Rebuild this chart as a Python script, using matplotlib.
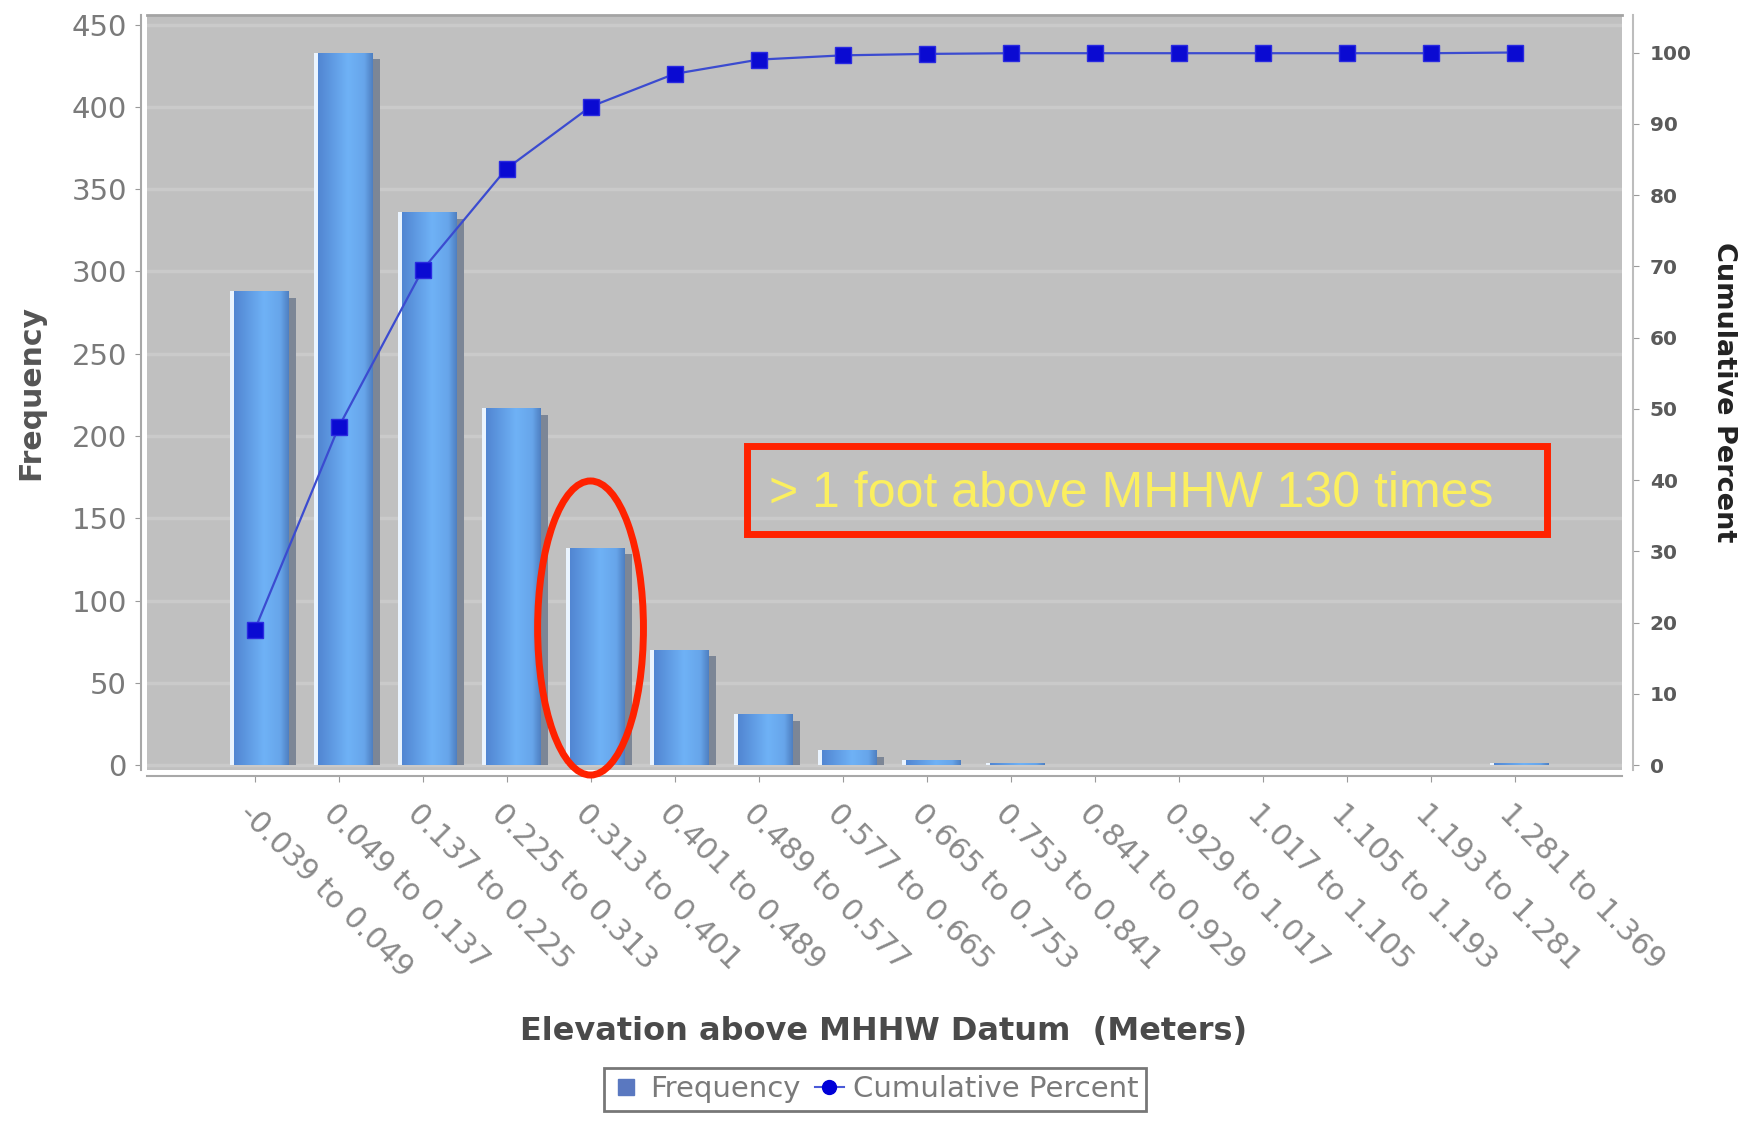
import numpy as np
import matplotlib.pyplot as plt
from matplotlib.patches import Rectangle, Ellipse
from matplotlib.lines import Line2D
from matplotlib.colors import LinearSegmentedColormap

# elevation bins (meters above MHHW) and counts per bin
bins = ['-0.039 to 0.049', '0.049 to 0.137', '0.137 to 0.225', '0.225 to 0.313',
        '0.313 to 0.401', '0.401 to 0.489', '0.489 to 0.577', '0.577 to 0.665',
        '0.665 to 0.753', '0.753 to 0.841', '0.841 to 0.929', '0.929 to 1.017',
        '1.017 to 1.105', '1.105 to 1.193', '1.193 to 1.281', '1.281 to 1.369']
frequency = [288, 433, 336, 217, 132, 70, 31, 9, 3, 1, 0, 0, 0, 0, 0, 1]
cumulative_pct = [18.9, 47.4, 69.5, 83.7, 92.4, 97.0, 99.0, 99.6, 99.8, 99.9,
                  99.9, 99.9, 99.9, 99.9, 99.9, 100.0]
freq_ticks = [0, 50, 100, 150, 200, 250, 300, 350, 400, 450]
pct_ticks = [0, 10, 20, 30, 40, 50, 60, 70, 80, 90, 100]
circled = 4  # the 0.313-0.401 bin, > 1 foot above MHHW

fig = plt.figure(figsize=(17.5, 11.21), dpi=100)
ax = fig.add_axes([0.084, 0.3131, 0.8429, 0.6735])
ax.set_facecolor('#c0c0c0')
x = np.arange(len(bins))

ax.yaxis.grid(True, color='#cacaca', lw=2.5)
ax.set_axisbelow(True)

# bars: shaded face, bright left edge, dark shadow on the right
cmap = LinearSegmentedColormap.from_list(
    'bar', [(0, '#5186d2'), (0.55, '#6fb2f6'), (0.85, '#67a5ea'), (1, '#4f80c2')])
grad = np.linspace(0, 1, 64).reshape(1, -1)
faces = ax.bar(x + 0.075, frequency, width=0.65, color='#62a0ea', zorder=2)
for rect in faces:
    if rect.get_height() <= 0:
        continue
    x0, w, h = rect.get_x(), rect.get_width(), rect.get_height()
    im = ax.imshow(grad, extent=[x0, x0 + w, 0, h], aspect='auto', cmap=cmap,
                   zorder=2.1, interpolation='bilinear')
    im.set_clip_path(rect)
ax.bar(x - 0.27, frequency, width=0.04, color='#eaf4ff', zorder=2.2)
shadow = np.clip(np.array(frequency) - 4, 0, None)
ax.bar(x + 0.445, shadow, width=0.09, color='#7c8696', zorder=1.9)

ax.set_xlim(-1.28, len(bins) - 1 + 1.28)
ax.set_ylim(-3.0, 455.8)

for side in ['left', 'bottom']:
    ax.spines[side].set_position(('outward', 4.5))
    ax.spines[side].set_color('#a8a8a8')
    ax.spines[side].set_linewidth(1.5)
ax.spines['top'].set_color('#a4a4a4')
ax.spines['top'].set_linewidth(2)
ax.spines['right'].set_visible(False)
ax.tick_params(axis='y', labelsize=21, labelcolor='#7a7a7a', color='#9a9a9a',
               length=4, pad=6)
ax.tick_params(axis='x', labelsize=21.5, labelcolor='#8a8a8a', color='#9a9a9a',
               length=4, pad=12)
ax.set_yticks(freq_ticks)
ax.set_xticks(x)
ax.set_xticklabels(bins, rotation=-45, ha='left', va='top', rotation_mode='anchor')

# cumulative percent on the right axis
ax2 = ax.twinx()
ax2.set_ylim(-0.70, 105.26)
ax2.set_yticks(pct_ticks)
ax2.plot(x, cumulative_pct, color='#3b4bd0', lw=1.6, marker='s', ms=11.5,
         mfc='#0a0ad2', mec='#2a2ae0', zorder=5)
for side in ['left', 'top', 'bottom']:
    ax2.spines[side].set_visible(False)
ax2.spines['right'].set_position(('outward', 8))
ax2.spines['right'].set_color('#bdbdbd')
ax2.spines['right'].set_linewidth(1.5)
ax2.tick_params(axis='y', labelsize=14.5, labelcolor='#5a5a5a', color='#9a9a9a',
                length=4, pad=8)
for lbl in ax2.get_yticklabels():
    lbl.set_fontweight('bold')

ax2.add_patch(Ellipse((x[circled], 83.3), 1.26, 178.7, transform=ax.transData,
                      fill=False, ec='#ff2200', lw=5, clip_on=False, zorder=10))

fig.add_artist(Rectangle((0.4271, 0.5232), 0.4571, 0.0785, transform=fig.transFigure,
                         fill=False, ec='#ff2200', lw=5))
fig.text(0.4394, 0.548, '> 1 foot above MHHW 130 times', fontsize=36,
         color='#fbef5f', family='Liberation Sans', va='baseline')

fig.text(0.0177, 0.650, 'Frequency', rotation=90, ha='center', va='center',
         fontsize=21.5, fontweight='bold', color='#555555')
fig.text(0.985, 0.650, 'Cumulative Percent', rotation=-90, ha='center', va='center',
         fontsize=19.5, fontweight='bold', color='#222222')
fig.text(0.505, 0.0794, 'Elevation above MHHW Datum  (Meters)', ha='center',
         va='center', fontsize=23, fontweight='bold', color='#4a4a4a')

handles = [Line2D([], [], ls='none', marker='s', ms=12, color='#5a78c0'),
           Line2D([], [], color='#4a5ad8', lw=1.5, marker='o', ms=10,
                  mfc='#0000d8', mec='#0000d8')]
leg = fig.legend(handles, ['Frequency', 'Cumulative Percent'], loc='upper center',
                 bbox_to_anchor=(0.5, 0.0473), ncol=2, frameon=True, fancybox=False,
                 edgecolor='#555555', fontsize=21, labelcolor='#7a7a7a',
                 handlelength=1.0, handletextpad=0.3, columnspacing=0.5,
                 borderpad=0.25, borderaxespad=0)
leg.get_frame().set_linewidth(2)

fig.savefig('out.png', dpi=100)
